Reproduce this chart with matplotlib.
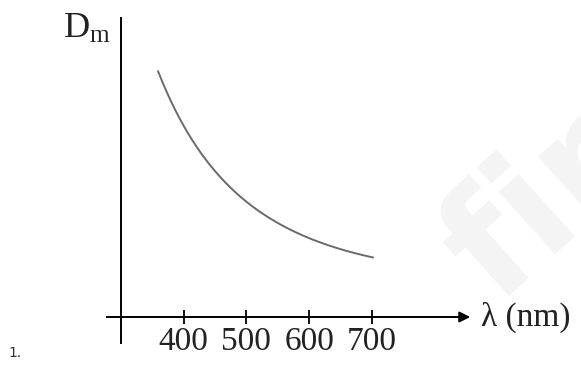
import matplotlib.pyplot as plt
import numpy as np

# curve (wavelength in nm, D_m in arbitrary units)
wavelength = [359, 383, 410, 437, 479, 517, 570, 622, 702]
d_min = [249, 210, 177, 154, 127, 110, 90, 74, 57]
tick_values = [400, 500, 600, 700]
tick_labels = ["400", "500", "600", "700"]

plt.rcParams["font.family"] = ["Liberation Serif", "DejaVu Serif"]
plt.rcParams["mathtext.fontset"] = "custom"
plt.rcParams["mathtext.rm"] = "Liberation Serif"

fig = plt.figure(figsize=(5.81, 3.72), dpi=100)
ax = fig.add_axes([0, 0, 1, 1])
ax.set_xlim(107, 1033.6)
ax.set_ylim(-55, 317)

# faint watermark
fig.text(0.95, 0.47, "fin", fontsize=110, fontweight="bold", family="DejaVu Sans",
         color="#f4f4f4", rotation=42, ha="center", va="center", zorder=0)

# smooth the read points a little with a quadratic in 1/lambda
lam = np.array(wavelength, dtype=float)
coef = np.polyfit(1 / lam, d_min, 2)
xs = np.linspace(lam[0], lam[-1], 200)
ax.plot(xs, np.polyval(coef, 1 / xs), color="#6a6a6a", lw=1.4, solid_capstyle="round")

for s in ["top", "right"]:
    ax.spines[s].set_visible(False)
ax.spines["left"].set_position(("data", 300))
ax.spines["bottom"].set_position(("data", 0))
ax.spines["left"].set_bounds(-26, 299)
ax.spines["bottom"].set_bounds(278, 845)
ax.spines["left"].set_linewidth(1.4)
ax.spines["bottom"].set_linewidth(1.4)
ax.annotate("", xy=(857, 0), xytext=(830, 0),
            arrowprops=dict(arrowstyle="-|>", color="black", lw=1.4,
                            mutation_scale=16, shrinkA=0, shrinkB=0))

ax.set_xticks(tick_values, tick_labels)
ax.set_yticks([])
ax.tick_params(axis="x", direction="inout", length=10, width=1.3, pad=2,
               labelsize=24, colors="black")
for t in ax.get_xticklabels():
    t.set_color("#222222")

ax.text(874, 0, "λ (nm)", fontsize=24, ha="left", va="center", color="#222222")
ax.text(283, 288, r"$\mathrm{D_m}$", fontsize=26, ha="right", va="center", color="#222222")
fig.text(0.014, 0.04, "1.", fontsize=10, family="DejaVu Sans", color="#333333")

fig.savefig("out.png", dpi=100)
